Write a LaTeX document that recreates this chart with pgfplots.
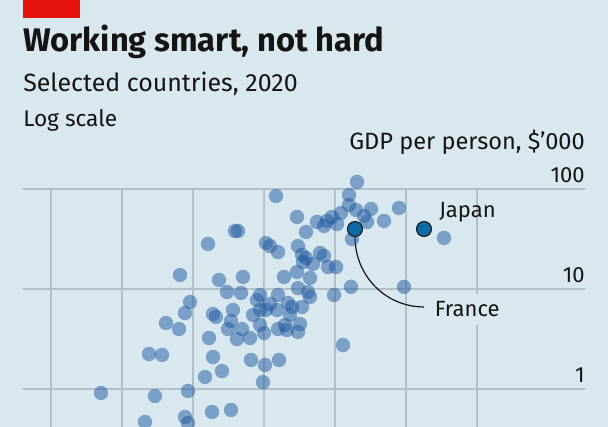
\documentclass[border=0pt]{standalone}
\usepackage{pgfplots}
\pgfplotsset{compat=1.18}
\usepackage{fontspec}
\setmainfont{Fira Sans}
\definecolor{bgc}{HTML}{D9E7EF}
\definecolor{gridc}{HTML}{B4C0C8}
\definecolor{dotc}{RGB}{30,90,160}
\definecolor{hic}{HTML}{0E6AA3}
\definecolor{txt}{HTML}{141414}
\definecolor{ecored}{HTML}{E3120B}
\begin{document}
\begin{tikzpicture}
\useasboundingbox (0,0) rectangle (456pt,320.25pt);
\clip (0,0) rectangle (456pt,320.25pt);
\fill[bgc] (0,0) rectangle (456pt,320.25pt);
\begin{axis}[
  at={(17.25pt,0pt)}, anchor=south west,
  scale only axis, width=421.5pt, height=178.5pt,
  xmin=23, xmax=585, ymode=log, ymin=0.4169, ymax=100,
  clip=false,
  axis line style={draw=none}, major tick style={draw=none}, minor tick style={draw=none},
  xtick={51,122,193,264,335,406,477}, xticklabels={},
  ytick={1,10,100}, yticklabels={1,10,100}, minor ytick={},
  xmajorgrids, ymajorgrids,
  grid style={gridc, line width=1pt},
  yticklabel pos=right,
  yticklabel style={anchor=base east, inner sep=0pt, yshift=4.5pt, text=txt,
    font=\fontsize{16.5pt}{18pt}\selectfont},
  /pgf/number format/assume math mode=true,
]
\addplot[only marks, mark=*, mark size=5.4pt, draw=none, fill=dotc,
  mark options={fill=dotc, draw=none, draw opacity=0, fill opacity=0.5}] table {
x y
276 85.1
297 52.5
306 37.2
317 46.8
324 42.7
332 52.5
341 57.5
349 87.1
357 117.5
349 69.2
356 61.7
364 53.7
367 46.8
371 63.1
384 47.9
399 64.6
337 44.7
327 47.9
444 32.4
352 31.6
320 22.9
324 21.4
336 16.6
351 10.5
334 8.71
404 10.5
343 2.75
238 38.0
235 38.0
208 28.2
266 28.8
270 26.9
278 23.4
298 26.9
302 21.9
303 18.6
306 20.4
313 17.8
328 16.6
180 13.8
219 12.3
243 13.2
284 13.2
297 14.8
310 12.9
227 9.33
241 9.12
260 8.71
278 8.71
298 10.2
308 9.33
190 7.41
185 5.75
166 4.57
179 3.98
149 2.24
162 2.19
101 0.912
155 0.851
188 0.955
145 0.468
185 0.525
188 0.457
212 0.589
231 0.617
205 1.32
222 1.51
213 2.09
209 3.24
213 5.62
216 5.25
233 6.17
231 4.79
228 3.98
242 3.98
237 3.16
253 5.50
260 6.17
250 3.24
260 4.37
264 3.63
266 6.17
270 7.08
277 6.17
278 3.98
285 4.37
287 3.89
292 6.61
290 5.50
300 4.47
298 3.72
302 6.61
257 7.76
310 8.32
251 1.95
265 1.74
279 1.95
263 1.17
288 7.24
};
% highlighted countries: France, Japan
\addplot[only marks, mark=*, mark size=5.6pt,
  mark options={fill=hic, draw=txt, line width=0.8pt}] table {
x y
355 39.8
424 39.8
};
\draw[txt, line width=0.9pt] (axis cs:355,33.1) to[out=-90,in=180] (axis cs:424,6.61);
\node[anchor=base west, inner sep=0pt, text=txt, font=\fontsize{16.5pt}{18pt}\selectfont]
  at (axis cs:439,51.3) {Japan};
\node[anchor=base west, fill=bgc, inner xsep=2pt, inner ysep=6pt, text=txt,
  font=\fontsize{16.5pt}{18pt}\selectfont] at (axis cs:432,5.25) {France};
\end{axis}
\begin{scope}[x=0.75pt, y=-0.75pt, yshift=320.25pt]
\fill[ecored] (23,0) rectangle (80,18);
\node[anchor=base west, inner sep=0pt, text=txt, font=\fontsize{24.5pt}{27pt}\selectfont\bfseries]
  at (23,52) {Working smart, not hard};
\node[anchor=base west, inner sep=0pt, text=txt, font=\fontsize{18.7pt}{20pt}\selectfont]
  at (23,92) {Selected countries, 2020};
\node[anchor=base west, inner sep=0pt, text=txt, font=\fontsize{17pt}{19pt}\selectfont]
  at (23,127) {Log scale};
\node[anchor=base east, inner sep=0pt, text=txt, font=\fontsize{17.7pt}{19pt}\selectfont]
  at (585,150) {GDP per person, \$’000};
\end{scope}
\end{tikzpicture}
\end{document}
